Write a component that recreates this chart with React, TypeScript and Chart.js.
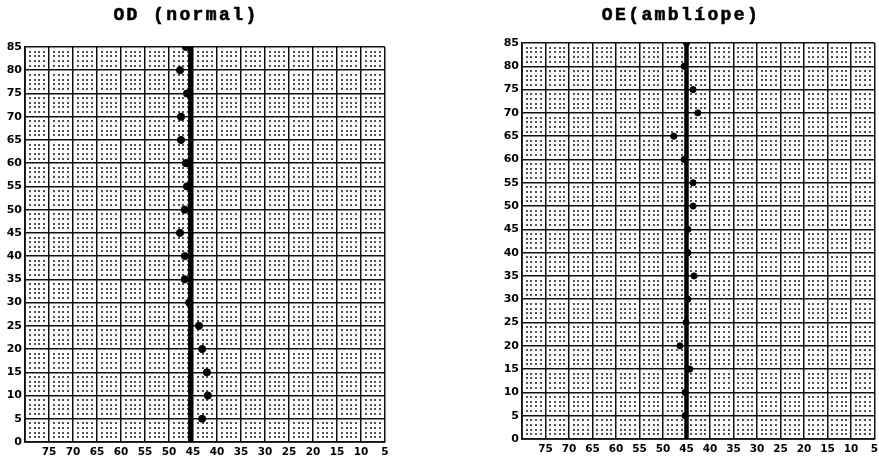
import React, { useEffect, useRef } from "react";
import { Chart, registerables } from "chart.js";

Chart.register(...registerables);

// ---- data ----
const Y_LEVELS = [85, 80, 75, 70, 65, 60, 55, 50, 45, 40, 35, 30, 25, 20, 15, 10, 5];
const OD_X = [46.5, 47.7, 46.25, 47.5, 47.5, 46.5, 46.25, 46.7, 47.7, 46.7, 46.7, 45.8, 43.75, 43.1, 42.1, 41.9, 43.1];
const OE_X = [45, 45.5, 43.6, 42.6, 47.7, 45.5, 43.6, 43.6, 44.7, 44.7, 43.4, 44.7, 45.1, 46.4, 44.3, 45.3, 45.3];
const OD_REF_X = 45.5;
const OE_REF_X = 45;
const X_GRID = [80, 75, 70, 65, 60, 55, 50, 45, 40, 35, 30, 25, 20, 15, 10, 5];
const X_TICK_LABELS = ["", "75", "70", "65", "60", "55", "50", "45", "40", "35", "30", "25", "20", "15", "10", "5"];
const Y_GRID = [0, 5, 10, 15, 20, 25, 30, 35, 40, 45, 50, 55, 60, 65, 70, 75, 80, 85];
const TITLES = ["OD (normal)", "OE(amblíope)"];

const dotGridPlugin = {
  id: "dotGrid",
  beforeDatasetsDraw(chart: any) {
    const { ctx, chartArea, scales } = chart;
    const xs = scales.x;
    const ys = scales.y;
    ctx.save();
    ctx.beginPath();
    ctx.rect(chartArea.left, chartArea.top, chartArea.right - chartArea.left, chartArea.bottom - chartArea.top);
    ctx.clip();
    ctx.fillStyle = "#2a2a2a";
    for (let x = 5; x <= 80; x++) {
      if (x % 5 === 0) continue;
      const px = xs.getPixelForValue(x);
      for (let y = 0; y <= 85; y++) {
        if (y % 5 === 0) continue;
        const py = ys.getPixelForValue(y);
        ctx.fillRect(Math.round(px) - 0.9, Math.round(py) - 0.9, 1.8, 1.8);
      }
    }
    ctx.restore();
  },
};

const titlePlugin = {
  id: "panelTitle",
  afterDraw(chart: any, _args: any, opts: any) {
    const { ctx } = chart;
    ctx.save();
    ctx.font = 'bold 18px "Liberation Mono", "Courier New", monospace';
    ctx.fillStyle = "#000";
    ctx.strokeStyle = "#000";
    ctx.lineWidth = 0.6;
    ctx.textAlign = "center";
    ctx.textBaseline = "middle";
    try {
      (ctx as any).letterSpacing = "2.4px";
    } catch (e) {}
    ctx.fillText(opts.text, opts.x, opts.y);
    ctx.strokeText(opts.text, opts.x, opts.y);
    ctx.restore();
  },
};

type PanelProps = {
  left: number;
  width: number;
  title: string;
  titleX: number;
  titleY: number;
  xs: number[];
  refX: number;
  yAxisWidth: number;
  padLeft: number;
  padRight: number;
  padTop: number;
  xAxisHeight: number;
  pointRadius: number;
  lineWidth: number;
};

function Panel(p: PanelProps) {
  const ref = useRef<HTMLCanvasElement | null>(null);
  useEffect(() => {
    if (!ref.current) return;
    const points = Y_LEVELS.map((y, i) => ({ x: p.xs[i], y }));
    const chart = new Chart(ref.current, {
      type: "scatter",
      data: {
        datasets: [
          {
            data: [
              { x: p.refX, y: 0 },
              { x: p.refX, y: 85 },
            ],
            showLine: true,
            borderColor: "#000",
            borderWidth: p.lineWidth,
            pointRadius: 0,
            borderCapStyle: "butt",
          } as any,
          {
            data: points,
            showLine: false,
            backgroundColor: "#000",
            borderColor: "#000",
            pointRadius: p.pointRadius,
            pointStyle: "circle",
          },
        ],
      },
      options: {
        responsive: false,
        animation: false,
        layout: { padding: { left: p.padLeft, right: p.padRight, top: p.padTop, bottom: 0 } },
        plugins: {
          legend: { display: false },
          tooltip: { enabled: false },
          panelTitle: { text: p.title, x: p.titleX, y: p.titleY },
        } as any,
        scales: {
          x: {
            type: "linear",
            min: 5,
            max: 80,
            reverse: true,
            afterBuildTicks: (s: any) => {
              s.ticks = X_GRID.map((v) => ({ value: v }));
            },
            afterFit: (s: any) => {
              s.height = p.xAxisHeight;
            },
            ticks: {
              autoSkip: false,
              maxRotation: 0,
              padding: 4,
              color: "#000",
              font: { family: '"DejaVu Sans", sans-serif', weight: "bold", size: 10.5 },
              callback: (v: any) => {
                const i = X_GRID.indexOf(Number(v));
                return i >= 0 ? X_TICK_LABELS[i] : "";
              },
            },
            grid: { color: "#111", lineWidth: 1.5, drawTicks: false },
            border: { color: "#111", width: 1.8 },
          },
          y: {
            type: "linear",
            min: 0,
            max: 85,
            afterBuildTicks: (s: any) => {
              s.ticks = Y_GRID.map((v) => ({ value: v }));
            },
            afterFit: (s: any) => {
              s.width = p.yAxisWidth;
            },
            ticks: {
              autoSkip: false,
              padding: 3,
              color: "#000",
              font: { family: '"DejaVu Sans", sans-serif', weight: "bold", size: 11 },
              callback: (v: any) => String(v),
            },
            grid: { color: "#111", lineWidth: 1.5, drawTicks: false },
            border: { color: "#111", width: 1.8 },
          },
        },
      } as any,
      plugins: [dotGridPlugin, titlePlugin],
    });
    return () => chart.destroy();
  }, []);
  return (
    <canvas
      ref={ref}
      width={p.width}
      height={457}
      style={{ position: "absolute", left: p.left, top: 0, width: p.width, height: 457 }}
    />
  );
}

export default function App() {
  return (
    <div
      style={{
        position: "fixed",
        left: 0,
        top: 0,
        width: 879,
        height: 457,
        overflow: "hidden",
        background: "#fff",
      }}
    >
      <Panel
        left={0}
        width={440}
        title={TITLES[0]}
        titleX={186}
        titleY={15}
        xs={OD_X}
        refX={OD_REF_X}
        yAxisWidth={25}
        padLeft={0}
        padRight={55}
        padTop={47}
        xAxisHeight={15}
        pointRadius={3.6}
        lineWidth={5}
      />
      <Panel
        left={440}
        width={460}
        title={TITLES[1]}
        titleX={241}
        titleY={15}
        xs={OE_X}
        refX={OE_REF_X}
        yAxisWidth={30}
        padLeft={52}
        padRight={25.5}
        padTop={43}
        xAxisHeight={18}
        pointRadius={3.1}
        lineWidth={4.5}
      />
    </div>
  );
}
